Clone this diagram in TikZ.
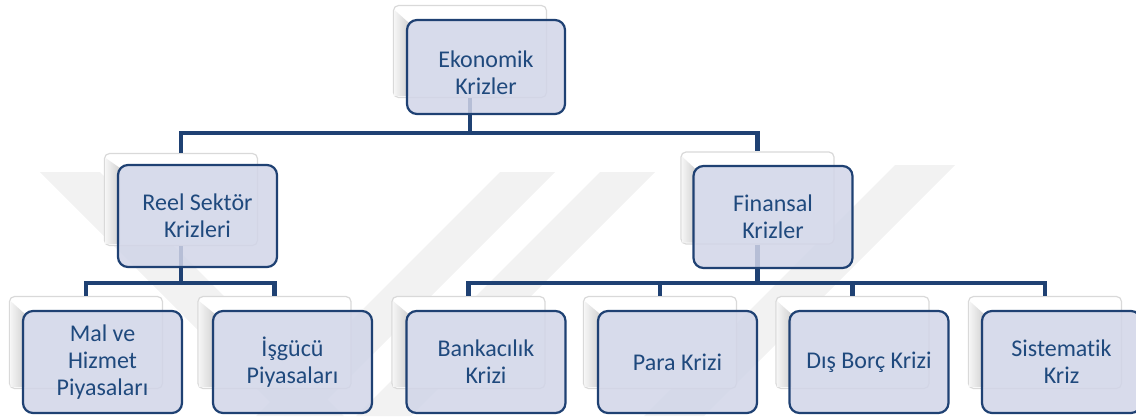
\documentclass[tikz,border=0pt]{standalone}
\usepackage{fontspec}
\setmainfont{Carlito}[Ligatures=NoCommon]
\usetikzlibrary{calc}
\definecolor{linecol}{HTML}{1F4173}
\definecolor{frontfill}{HTML}{D1D5E8}
\definecolor{textcol}{HTML}{1F497D}
\definecolor{backline}{HTML}{D9D9D9}
\definecolor{wm}{HTML}{F2F2F2}
\begin{document}
\begin{tikzpicture}[x=1pt,y=-1pt,
  backbox/.style={draw=backline, line width=1.2pt, fill=white, rounded corners=5pt,
    minimum width=153pt, minimum height=92pt, inner sep=0pt},
  frontbox/.style={draw=linecol, line width=2.2pt, fill=frontfill, fill opacity=0.85,
    text opacity=1, draw opacity=1, rounded corners=10pt, minimum width=159pt,
    minimum height=102pt, inner sep=0pt, align=center, text=textcol,
    font=\fontsize{24}{27}\selectfont},
  conn/.style={draw=linecol, line width=4.5pt, line join=miter},
  wmband/.style={fill=wm},
  bevel/.style={left color=black!4, right color=black!18}
]
\useasboundingbox (0,0) rectangle (1136,416);
\clip (0,0) rectangle (1136,416);
% watermark
\fill[wmband] (40,172) -- (100,172) -- (344,416) -- (284,416) -- cycle;
\fill[wmband] (500,172) -- (555,172) -- (311,416) -- (256,416) -- cycle;
\fill[wmband] (600,172) -- (655,172) -- (411,416) -- (356,416) -- cycle;
\fill[wmband] (895,165) -- (955,165) -- (704,416) -- (644,416) -- cycle;
% back boxes
\node[backbox] (bTop) at (470,51.5) {};
\node[backbox] (bReel) at (181,199.5) {};
\node[backbox] (bFin) at (757.5,198) {};
\node[backbox] (bMal) at (86,342.5) {};
\node[backbox] (bIsg) at (274.5,342.5) {};
\node[backbox] (bBank) at (468.5,342.5) {};
\node[backbox] (bPara) at (660,342.5) {};
\node[backbox] (bDis) at (852.5,342.5) {};
\node[backbox] (bSis) at (1045,342.5) {};
% junctions
\coordinate (j1) at (470,133);
\coordinate (j2) at (181,283);
\coordinate (j3) at (757.5,283);
% connectors
\draw[conn] (bTop.south) -- (j1) -| (bReel.north);
\draw[conn] (j1) -| (bFin.north);
\draw[conn] (bReel.south) -- (j2) -| (bMal.north);
\draw[conn] (j2) -| (bIsg.north);
\draw[conn] (bFin.south) -- (j3) -| (bBank.north);
\draw[conn] (j3) -| (bPara.north);
\draw[conn] (j3) -| (bDis.north);
\draw[conn] (j3) -| (bSis.north);
% bevel strips between back and front boxes
\foreach \n/\x/\y/\w/\h in {Top/486/67/158/94, Reel/197.5/216/159/102, Fin/773/217/159/102,
  Mal/102.5/362/159/102, Isg/292.5/362/159/102, Bank/486/362/159/102,
  Para/677.5/362/159/102, Dis/869/362/159/102, Sis/1061.5/362/159/102}{
  \coordinate (fc\n) at (\x,\y);
  \shade[bevel] ($(b\n.north west)+(1.5,5)$) -- ($(fc\n)+(-\w/2+2,-\h/2+3)$)
     -- ($(fc\n)+(-\w/2+2,0)$) |- ($(b\n.south west)+(1.5,-2)$) -- cycle;
}
% front boxes
\node[frontbox, minimum height=94pt, minimum width=158pt] (fTop) at (486,67)
  {\raisebox{-9pt}[\height][\depth]{\begin{tabular}{@{}c@{}}Ekonomik\\Krizler\end{tabular}}};
\node[frontbox] (fReel) at (197.5,216) {Reel Sektör\\Krizleri};
\node[frontbox] (fFin) at (773,217) {Finansal\\Krizler};
\node[frontbox] (fMal) at (102.5,362) {Mal ve\\Hizmet\\Piyasaları};
\node[frontbox] (fIsg) at (292.5,362) {İşgücü\\Piyasaları};
\node[frontbox] (fBank) at (486,362) {Bankacılık\\Krizi};
\node[frontbox] (fPara) at (677.5,362) {Para Krizi};
\node[frontbox] (fDis) at (869,362) {Dış Borç Krizi};
\node[frontbox] (fSis) at (1061.5,362) {Sistematik\\Kriz};
\end{tikzpicture}
\end{document}
